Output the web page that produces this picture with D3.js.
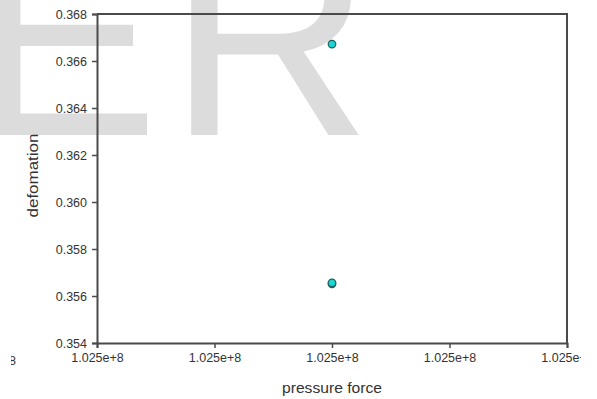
<!DOCTYPE html>
<html>
<head>
<meta charset="utf-8">
<script src="https://cdn.jsdelivr.net/npm/d3@7/dist/d3.min.js"></script>
<style>
  html, body { margin: 0; padding: 0; background: #fff; }
  svg { display: block; }
  text { font-family: "Liberation Sans", Arial, sans-serif; }
</style>
</head>
<body>
<svg id="chart" width="597" height="399"></svg>
<script>
// Measured deformation against applied pressure force
const pressureForce = [102500000, 102500000, 102500000];
const deformation = [0.36672, 0.35652, 0.35656];

// Axis ticks
const xTicks = [102499998, 102499999, 102500000, 102500001, 102500002];
const yTicks = [0.354, 0.356, 0.358, 0.360, 0.362, 0.364, 0.366, 0.368];

const W = 597, H = 399;
const m = { left: 97, right: 30, top: 14, bottom: 56 };

const svg = d3.select("#chart");

// Light background lettering
svg.append("text")
  .attr("x", -29).attr("y", 135)
  .attr("font-size", 282)
  .attr("letter-spacing", 9)
  .attr("fill", "#dcdcdc")
  .text("ER");

svg.append("defs").append("clipPath").attr("id", "clipView")
  .append("rect").attr("x", 0).attr("y", 0).attr("width", 581).attr("height", H);

const g = svg.append("g").attr("clip-path", "url(#clipView)");

const x = d3.scaleLinear()
  .domain([d3.min(xTicks), d3.max(xTicks)])
  .range([m.left, W - m.right]);
const y = d3.scaleLinear()
  .domain([d3.min(yTicks), d3.max(yTicks)])
  .range([H - m.bottom, m.top]);

const axisColor = "#4a4a4a";
const textColor = "#333";

// Frame (top and right edges)
g.append("path")
  .attr("d", `M${x.range()[0]},${y.range()[1]}H${x.range()[1]}V${y.range()[0]}`)
  .attr("fill", "none").attr("stroke", axisColor).attr("stroke-width", 2);

const xAxis = g.append("g")
  .attr("transform", `translate(0,${y.range()[0]})`)
  .call(d3.axisBottom(x).tickValues(xTicks).tickFormat(d3.format(".3e")).tickSize(5).tickPadding(5));
const yAxis = g.append("g")
  .attr("transform", `translate(${x.range()[0]},0)`)
  .call(d3.axisLeft(y).tickValues(yTicks).tickFormat(d3.format(".3f")).tickSize(5).tickPadding(5));

[xAxis, yAxis].forEach(a => {
  a.select(".domain").attr("stroke", axisColor).attr("stroke-width", 2);
  a.selectAll(".tick line").attr("stroke", axisColor).attr("stroke-width", 1.5);
  a.selectAll(".tick text").attr("fill", textColor).attr("font-size", 12.5)
    .attr("font-family", "'Liberation Sans', Arial, sans-serif");
});
yAxis.selectAll(".tick text").attr("dy", "0.35em");

// Edge of a neighbouring tick label at the far left
svg.append("defs").append("clipPath").attr("id", "clipEdge")
  .append("rect").attr("x", 11).attr("y", 350).attr("width", 10).attr("height", 20);
svg.append("text")
  .attr("clip-path", "url(#clipEdge)")
  .attr("x", 16).attr("y", 365)
  .attr("text-anchor", "end")
  .attr("font-size", 12.5).attr("fill", textColor)
  .text("1.025e+8");

// Axis titles
g.append("text")
  .attr("x", 332)
  .attr("y", 393)
  .attr("text-anchor", "middle")
  .attr("font-size", 15).attr("fill", textColor)
  .attr("textLength", 100).attr("lengthAdjust", "spacingAndGlyphs")
  .text("pressure force");
g.append("text")
  .attr("transform", `translate(38,${(y.range()[0] + y.range()[1]) / 2 - 3}) rotate(-90)`)
  .attr("text-anchor", "middle")
  .attr("font-size", 14.5).attr("fill", textColor)
  .attr("textLength", 84).attr("lengthAdjust", "spacingAndGlyphs")
  .text("defomation");

// Data points
g.selectAll("circle.pt")
  .data(pressureForce.map((p, i) => ({ p, d: deformation[i] })))
  .join("circle")
  .attr("class", "pt")
  .attr("cx", d => x(d.p))
  .attr("cy", d => y(d.d))
  .attr("r", 3.8)
  .attr("fill", "#19d6d2")
  .attr("stroke", "#1f5f5c")
  .attr("stroke-width", 1.2);
</script>
</body>
</html>
